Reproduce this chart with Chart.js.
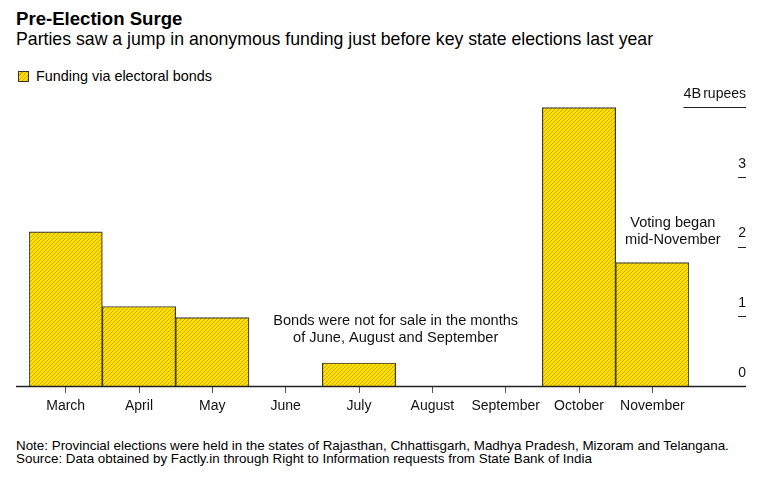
<!DOCTYPE html>
<html>
<head>
<meta charset="utf-8">
<script src="https://cdn.jsdelivr.net/npm/chart.js@4"></script>
<style>
  html,body{margin:0;padding:0;background:#fff;}
  body{width:783px;height:481px;position:relative;overflow:hidden;font-family:"Liberation Sans",Arial,sans-serif;color:#000;}
  .t{position:absolute;left:16px;white-space:nowrap;line-height:1;}
  #title{top:10px;font-size:18.6px;font-weight:bold;}
  #sub{top:31px;font-size:17.7px;}
  #legend{top:69px;left:18px;font-size:14.4px;}
  #legend .box{display:inline-block;width:9px;height:9px;border:1px solid #333;vertical-align:-1px;margin-right:7px;
    background:repeating-linear-gradient(135deg,#ffe100 0 2px,#c9a600 2px 3px);}
  #note{top:439px;font-size:13.4px;line-height:13px;}
  canvas{position:absolute;left:0;top:0;}
</style>
</head>
<body>
<div class="t" id="title">Pre-Election Surge</div>
<div class="t" id="sub">Parties saw a jump in anonymous funding just before key state elections last year</div>
<div class="t" id="legend"><span class="box"></span>Funding via electoral bonds</div>
<div class="t" id="note">Note: Provincial elections were held in the states of Rajasthan, Chhattisgarh, Madhya Pradesh, Mizoram and Telangana.<br>Source: Data obtained by Factly.in through Right to Information requests from State Bank of India</div>
<canvas id="c" width="783" height="481"></canvas>
<script>
const months = ["March","April","May","June","July","August","September","October","November"];
const funding = [2.21, 1.14, 0.98, 0, 0.33, 0, 0, 3.99, 1.77];
const yTicks = [0, 1, 2, 3, 4];
const yTickLabels = ["0", "1", "2", "3", "4B"];
const yUnit = "rupees";
const seriesName = "Funding via electoral bonds";
const notes = [
  {x: 4.5, y: 0.93, lines: ["Bonds were not for sale in the months", "of June, August and September"]},
  {x: 8.28, y: 2.34, lines: ["Voting began", "mid-November"]}
];

const FONT = '"Liberation Sans", Arial, sans-serif';
const ctx = document.getElementById('c').getContext('2d');

function makePattern(){
  const c = document.createElement('canvas'); c.width = 4; c.height = 4;
  const x = c.getContext('2d');
  x.fillStyle = '#ffe100'; x.fillRect(0,0,4,4);
  x.strokeStyle = '#c9a600'; x.lineWidth = 1;
  x.beginPath();
  x.moveTo(0,4); x.lineTo(4,0);
  x.moveTo(-1,1); x.lineTo(1,-1);
  x.moveTo(3,5); x.lineTo(5,3);
  x.stroke();
  return ctx.createPattern(c,'repeat');
}

const deco = {
  id: 'deco',
  afterDraw(chart){
    const c = chart.ctx, y = chart.scales.y, x = chart.scales.x, ca = chart.chartArea;
    c.save();
    // baseline axis
    c.strokeStyle = '#222'; c.lineWidth = 1.5;
    c.beginPath(); c.moveTo(16, ca.bottom + 0.5); c.lineTo(746, ca.bottom + 0.5); c.stroke();
    // top unit label
    c.fillStyle = '#111'; c.font = '14px ' + FONT; c.textBaseline = 'middle'; c.textAlign = 'right';
    const topV = yTicks[yTicks.length - 1];
    const ty = y.getPixelForValue(topV) - 13;
    c.fillText(yUnit, 746, ty);
    const uw = c.measureText(yUnit).width;
    c.font = '14.5px ' + FONT;
    c.fillText(yTickLabels[yTickLabels.length - 1], 746 - uw - 2, ty);
    const lw = uw + 2 + c.measureText(yTickLabels[yTickLabels.length - 1]).width;
    // y tick dashes
    c.lineWidth = 1;
    yTicks.forEach((v, i) => {
      if (v === 0) return;
      const py = Math.round(y.getPixelForValue(v)) + 0.5;
      const x0 = (i === yTicks.length - 1) ? 746 - lw : 738;
      c.beginPath(); c.moveTo(x0, py); c.lineTo(746, py); c.stroke();
    });
    // annotations
    c.fillStyle = '#111'; c.font = '14.6px ' + FONT; c.textAlign = 'center'; c.textBaseline = 'middle';
    notes.forEach(n => {
      const px = x.getPixelForValue(n.x), py = y.getPixelForValue(n.y);
      n.lines.forEach((l, k) => c.fillText(l, px, py + k * 17));
    });
    c.restore();
  }
};

new Chart(ctx, {
  type: 'bar',
  data: {
    labels: months,
    datasets: [{
      label: seriesName,
      data: funding,
      backgroundColor: makePattern(),
      borderColor: '#3a3a3a',
      borderWidth: 1.2,
      categoryPercentage: 1,
      barPercentage: 1
    }]
  },
  options: {
    responsive: false,
    animation: false,
    devicePixelRatio: 1,
    layout: {padding: {left: 29, right: 37, top: 107, bottom: 55}},
    plugins: {legend: {display: false}, tooltip: {enabled: false}},
    scales: {
      x: {
        border: {display: false},
        grid: {display: true, drawOnChartArea: false, offset: false, tickLength: 7, color: '#555', lineWidth: 1},
        ticks: {color: '#111', font: {family: FONT, size: 14}, padding: 5, maxRotation: 0, autoSkip: false},
        afterFit(s){ s.height = 40; }
      },
      y: {
        position: 'right',
        min: 0, max: 4,
        border: {display: false},
        grid: {display: false},
        afterBuildTicks(s){ s.ticks = yTicks.map(v => ({value: v})); },
        ticks: {
          color: '#111', font: {family: FONT, size: 14}, crossAlign: 'far', labelOffset: -13, padding: 0,
          callback: (v) => (v === yTicks[yTicks.length - 1] ? '' : yTickLabels[yTicks.indexOf(v)])
        },
        afterFit(s){ s.width = 57; }
      }
    }
  },
  plugins: [deco]
});
</script>
</body>
</html>
